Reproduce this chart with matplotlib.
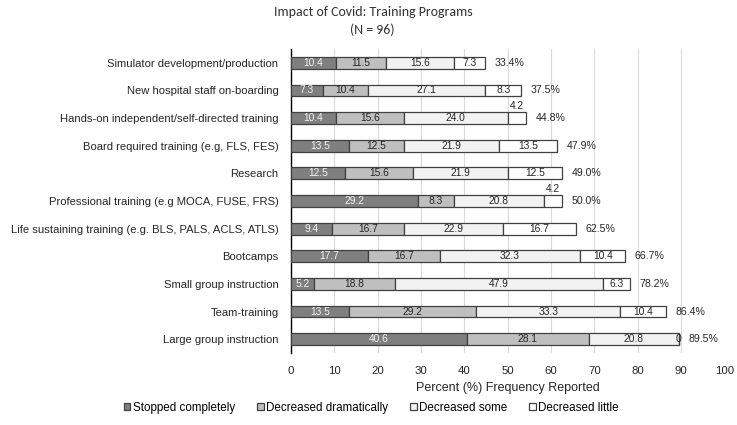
import matplotlib
matplotlib.use("Agg")
import matplotlib.pyplot as plt
import numpy as np

categories = [
    "Simulator development/production",
    "New hospital staff on-boarding",
    "Hands-on independent/self-directed training",
    "Board required training (e.g, FLS, FES)",
    "Research",
    "Professional training (e.g MOCA, FUSE, FRS)",
    "Life sustaining training (e.g. BLS, PALS, ACLS, ATLS)",
    "Bootcamps",
    "Small group instruction",
    "Team-training",
    "Large group instruction",
]
stopped_completely = [10.4, 7.3, 10.4, 13.5, 12.5, 29.2, 9.4, 17.7, 5.2, 13.5, 40.6]
decreased_dramatically = [11.5, 10.4, 15.6, 12.5, 15.6, 8.3, 16.7, 16.7, 18.8, 29.2, 28.1]
decreased_some = [15.6, 27.1, 24.0, 21.9, 21.9, 20.8, 22.9, 32.3, 47.9, 33.3, 20.8]
decreased_little = [7.3, 8.3, 4.2, 13.5, 12.5, 4.2, 16.7, 10.4, 6.3, 10.4, 0.0]
total_labels = ["33.4%", "37.5%", "44.8%", "47.9%", "49.0%", "50.0%",
                "62.5%", "66.7%", "78.2%", "86.4%", "89.5%"]
series_names = ["Stopped completely", "Decreased dramatically",
                "Decreased some", "Decreased little"]
x_ticks = [0, 10, 20, 30, 40, 50, 60, 70, 80, 90, 100]

plt.rcParams['font.family'] = ['Liberation Sans', 'DejaVu Sans']

fig = plt.figure(figsize=(7.37, 4.25), dpi=100)
ax = fig.add_axes([0.3948, 0.1694, 0.983 - 0.3948, 0.8847 - 0.1694])

series = [stopped_completely, decreased_dramatically, decreased_some, decreased_little]
colors = ["#7f7f7f", "#bfbfbf", "#f2f2f2", "#ffffff"]
text_colors = ["#f2f2f2", "#262626", "#262626", "#262626"]

y = np.arange(len(categories))
left = np.zeros(len(categories))
bar_h = 0.43
val_fs = 7.4
for k, (vals, col, tcol, name) in enumerate(zip(series, colors, text_colors, series_names)):
    vals = np.array(vals)
    ax.barh(y, vals, left=left, height=bar_h, color=col, edgecolor="#404040",
            linewidth=0.9, label=name, zorder=3)
    for i, v in enumerate(vals):
        cx = left[i] + v / 2
        if k == 3 and 0 < v < 5:
            ax.text(cx, y[i] - bar_h / 2 - 0.04, f"{v:.1f}", ha="center", va="bottom",
                    fontsize=val_fs, color=tcol, zorder=4)
        elif v == 0:
            ax.text(cx, y[i], "0", ha="center", va="center",
                    fontsize=val_fs, color=tcol, zorder=4)
        else:
            ax.text(cx, y[i], f"{v:.1f}", ha="center", va="center",
                    fontsize=val_fs, color=tcol, zorder=4)
    left = left + vals

for i, lab in enumerate(total_labels):
    ax.annotate(lab, xy=(left[i], y[i]), xytext=(7, 0), textcoords="offset points",
                ha="left", va="center", fontsize=7.6, color="#262626")

ax.set_ylim(len(categories) - 0.5, -0.5)
ax.set_xlim(0, 100)
ax.set_xticks(x_ticks)
ax.set_yticks(y)
ax.set_yticklabels(categories, fontsize=8.1, color="#262626")
ax.tick_params(axis="x", labelsize=8.2, colors="#262626", length=0, pad=9)
ax.tick_params(axis="y", length=0, pad=9)
ax.xaxis.grid(True, color="#d9d9d9", linewidth=0.8, zorder=0)
ax.set_axisbelow(True)
for s in ["top", "right", "bottom"]:
    ax.spines[s].set_visible(False)
ax.spines["left"].set_color("#000000")
ax.spines["left"].set_linewidth(1.0)
ax.set_xlabel("Percent (%) Frequency Reported", fontsize=9, color="#262626", labelpad=5)

fig.text(0.507, 0.972, "Impact of Covid: Training Programs", ha="center", va="center",
         fontsize=10, family=["Carlito", "DejaVu Sans"], color="#333333")
fig.text(0.505, 0.93, "(N = 96)", ha="center", va="center",
         fontsize=10, family=["Carlito", "DejaVu Sans"], color="#333333")

handles, labels = ax.get_legend_handles_labels()
fig.legend(handles, labels, loc="center", bbox_to_anchor=(0.504, 0.041), ncol=4,
           frameon=False, fontsize=8.4, handlelength=0.55, handleheight=0.55,
           handletextpad=0.2, columnspacing=1.9)

fig.savefig("out.png", dpi=100)
